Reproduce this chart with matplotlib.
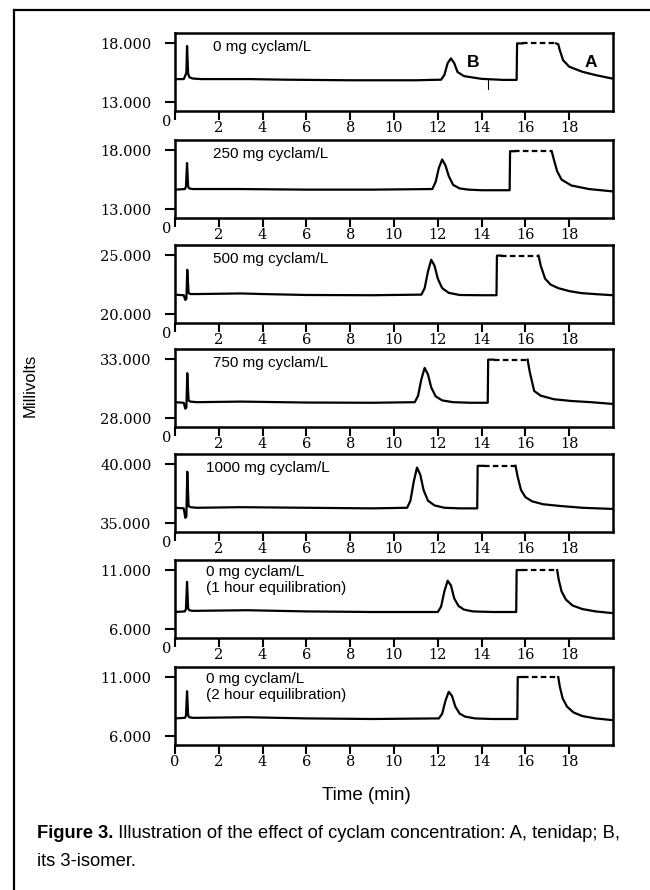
import numpy as np
import matplotlib.pyplot as plt
from matplotlib import font_manager

nan = np.nan

# panel labels and y tick values
labels = ['0 mg cyclam/L', '250 mg cyclam/L', '500 mg cyclam/L', '750 mg cyclam/L',
          '1000 mg cyclam/L', '0 mg cyclam/L\n(1 hour equilibration)',
          '0 mg cyclam/L\n(2 hour equilibration)']
yticks = [(13, 18), (13, 18), (20, 25), (28, 33), (35, 40), (6, 11), (6, 11)]

# traces (time in min, millivolts); nan = saturated part
t1 = [0, 0.4, 0.48, 0.52, 0.55, 0.6, 0.66, 0.8, 1.2, 2.0, 3.4, 5, 8, 11, 12.15, 12.3, 12.45,
      12.6, 12.75, 12.9, 13.2, 14.0, 15.0, 15.6, 15.62, 15.85, nan, 17.4, 17.5, 17.57, 17.72,
      18.0, 18.6, 19.2, 19.9, 20]
v1 = [14.95, 14.95, 15.3, 15.5, 17.75, 15.4, 15.1, 15.0, 14.95, 14.95, 14.95, 14.9, 14.85, 14.85,
      14.9, 15.3, 16.3, 16.7, 16.3, 15.55, 15.2, 14.97, 14.88, 14.88, 17.97, 17.97, nan, 17.97, 17.9,
      17.4, 16.55, 16.0, 15.57, 15.29, 15.02, 15.0]
t2 = [0, 0.45, 0.5, 0.55, 0.6, 0.65, 0.8, 1, 3, 6, 9, 11.75, 11.9, 12.05, 12.2, 12.35, 12.5,
      12.7, 13.0, 13.4, 14.0, 15.28, 15.3, 15.5, nan, 17.2, 17.3, 17.45, 17.65, 18.1, 18.9, 20]
v2 = [14.65, 14.7, 14.9, 16.9, 14.9, 14.75, 14.7, 14.7, 14.7, 14.65, 14.65, 14.7, 15.3, 16.5, 17.2,
      16.7, 15.8, 15.05, 14.75, 14.65, 14.6, 14.6, 17.9, 17.9, nan, 17.9, 17.2, 16.2, 15.5, 15.0,
      14.7, 14.5]
t3 = [0, 0.4, 0.47, 0.52, 0.56, 0.62, 0.7, 1, 3, 4, 6, 9, 11.25, 11.4, 11.55, 11.7, 11.85, 12.0,
      12.2, 12.5, 13.0, 14.0, 14.68, 14.7, 14.9, nan, 16.6, 16.7, 16.9, 17.15, 17.5, 18.0, 18.55,
      19.3, 20]
v3 = [21.65, 21.6, 21.2, 21.3, 23.75, 21.8, 21.7, 21.7, 21.75, 21.7, 21.62, 21.6, 21.65, 22.2, 23.6,
      24.6, 24.1, 23.0, 22.2, 21.8, 21.62, 21.6, 21.6, 24.95, 24.95, nan, 24.95, 24.1, 23.0, 22.5,
      22.2, 21.95, 21.78, 21.68, 21.6]
t4 = [0, 0.4, 0.47, 0.52, 0.56, 0.62, 0.7, 1, 3, 6, 9, 10.95, 11.1, 11.25, 11.4, 11.55, 11.7,
      11.9, 12.2, 12.7, 13.5, 14.28, 14.3, 14.55, nan, 16.1, 16.2, 16.4, 16.7, 17.3, 18.1,
      19.0, 20]
v4 = [29.35, 29.3, 28.8, 28.9, 31.8, 29.5, 29.4, 29.35, 29.4, 29.32, 29.3, 29.35, 29.9, 31.3, 32.25,
      31.7, 30.6, 29.85, 29.5, 29.35, 29.3, 29.3, 32.95, 32.95, nan, 32.95, 31.9, 30.3, 29.9, 29.6,
      29.45, 29.35, 29.2]
t5 = [0, 0.4, 0.47, 0.52, 0.56, 0.62, 0.7, 1, 3, 6, 9, 10.6, 10.75, 10.9, 11.05, 11.2, 11.35,
      11.55, 11.85, 12.3, 13.0, 13.8, 13.82, 14.1, nan, 15.55, 15.65, 15.8, 16.0, 16.3, 16.8, 17.6,
      18.6, 20]
v5 = [36.3, 36.25, 35.45, 35.55, 39.35, 36.45, 36.35, 36.3, 36.35, 36.3, 36.25, 36.3, 36.9, 38.5,
      39.7, 39.1, 37.8, 36.9, 36.5, 36.3, 36.25, 36.25, 39.85, 39.85, nan, 39.85, 38.9, 37.8, 37.2,
      36.85, 36.6, 36.45, 36.3, 36.2]
t6 = [0, 0.45, 0.5, 0.55, 0.6, 0.65, 0.8, 1, 3.3, 6, 9, 12.0, 12.15, 12.3, 12.45, 12.6, 12.75,
      12.95, 13.2, 13.6, 14.5, 15.58, 15.6, 15.85, nan, 17.45, 17.52, 17.65, 17.85, 18.15, 18.6,
      19.2, 20]
v6 = [7.45, 7.5, 7.7, 10.0, 7.75, 7.6, 7.55, 7.55, 7.6, 7.5, 7.45, 7.45, 7.9, 9.2, 10.1, 9.7, 8.6,
      7.95, 7.65, 7.5, 7.45, 7.45, 11.0, 11.0, nan, 11.0, 10.2, 9.2, 8.5, 8.0, 7.7, 7.5, 7.35]
t7 = [0, 0.45, 0.5, 0.55, 0.6, 0.65, 0.8, 1, 3.3, 6, 9, 12.05, 12.2, 12.35, 12.5, 12.65, 12.8,
      13.0, 13.25, 13.7, 14.5, 15.63, 15.65, 15.9, nan, 17.5, 17.57, 17.7, 17.9, 18.2, 18.6, 19.2, 20]
v7 = [7.5, 7.55, 7.7, 9.8, 7.75, 7.6, 7.55, 7.55, 7.6, 7.5, 7.45, 7.5, 7.9, 9.0, 9.75, 9.4, 8.5,
      7.9, 7.65, 7.5, 7.45, 7.45, 11.0, 11.0, nan, 11.0, 10.2, 9.2, 8.5, 8.0, 7.7, 7.5, 7.35]
times = [t1, t2, t3, t4, t5, t6, t7]
values = [v1, v2, v3, v4, v5, v6, v7]

# dashed flat top (off scale) of peak A
dash_t = [(15.85, 17.4), (15.5, 17.2), (14.9, 16.6), (14.55, 16.1), (14.1, 15.55), (15.85, 17.45),
          (15.9, 17.5)]
dash_v = [17.97, 17.9, 24.95, 32.95, 39.85, 11.0, 11.0]

xticks = [0, 2, 4, 6, 8, 10, 12, 14, 16, 18]

serif = 'DejaVu Serif'
sans = 'Liberation Sans'
have = {f.name for f in font_manager.fontManager.ttflist}
narrow = 'Liberation Sans Narrow' if 'Liberation Sans Narrow' in have else sans

fig = plt.figure(figsize=(6.5, 8.9), dpi=100)
W, H = 650.0, 890.0

# frame of the figure and caption
bg = fig.add_axes([0, 0, 1, 1])
bg.set_xlim(0, W)
bg.set_ylim(H, 0)
bg.axis('off')
bg.plot([14, 650], [10, 10], color='black', lw=1.6)
bg.plot([14, 14], [10, 890], color='black', lw=1.6)

tops = [33, 140, 245, 349, 454, 560, 667]
ph = 78
left, right = 175, 613

for i in range(7):
    ax = fig.add_axes([left / W, 1 - (tops[i] + ph) / H, (right - left) / W, ph / H])
    lo, hi = yticks[i]
    ax.plot(times[i], values[i], color='black', lw=1.6, solid_joinstyle='round')
    ax.plot(dash_t[i], [dash_v[i], dash_v[i]], color='black', lw=1.6, ls=(0, (2.5, 1.5)))
    ax.set_xlim(0, 20)
    ax.set_ylim(lo - 0.75, hi + 0.85)
    ax.set_yticks([lo, hi])
    ax.set_yticklabels(['%.3f' % lo, '%.3f' % hi], family=serif, fontsize=10.5)
    ax.set_xticks(xticks)
    if i < 6:
        ax.set_xticklabels([''] + [str(x) for x in xticks[1:]], family=serif, fontsize=10.5)
        ax.annotate('0', xy=(0, 0), xycoords='axes fraction', xytext=(-8, -11),
                    textcoords='offset pixels', ha='center', va='center',
                    family=serif, fontsize=10.5)
    else:
        ax.set_xticklabels([str(x) for x in xticks], family=serif, fontsize=10.5)
    ax.tick_params(axis='y', direction='out', length=7, width=1.5, pad=10)
    ax.tick_params(axis='x', direction='out', length=6.5, width=1.5, pad=1)
    for s in ax.spines.values():
        s.set_linewidth(1.8)
    lx = 1.75 if i < 4 else 1.4
    two = '\n' in labels[i]
    ax.text(lx, 0.93 if two else 0.82, labels[i], transform=ax.get_xaxis_transform(),
            family=sans, fontsize=11, va='top' if two else 'center', linespacing=1.15)
    if i == 0:
        ax.text(13.6, 16.35, 'B', family=sans, weight='bold', fontsize=12.5, ha='center', va='center')
        ax.text(19.0, 16.35, 'A', family=sans, weight='bold', fontsize=12.5, ha='center', va='center')
        ax.plot([14.3, 14.3], [14.85, 14.1], color='black', lw=0.8)

fig.text(30 / W, 1 - 385 / H, 'Millivolts', rotation=90, family=sans, fontsize=12,
         ha='center', va='center')
fig.text(366 / W, 1 - 796 / H, 'Time (min)', family=sans, fontsize=13.5, ha='center', va='center')

cap = bg.text(37, 838, 'Figure 3.', family=narrow, weight='bold', fontsize=13.2, va='baseline')
bg.annotate(' Illustration of the effect of cyclam concentration: A, tenidap; B,',
            xy=(1, 0), xycoords=cap, va='bottom', family=narrow, fontsize=13.2)
bg.text(37, 866, 'its 3-isomer.', family=narrow, fontsize=13.2, va='baseline')

fig.savefig('out.png', dpi=100)
